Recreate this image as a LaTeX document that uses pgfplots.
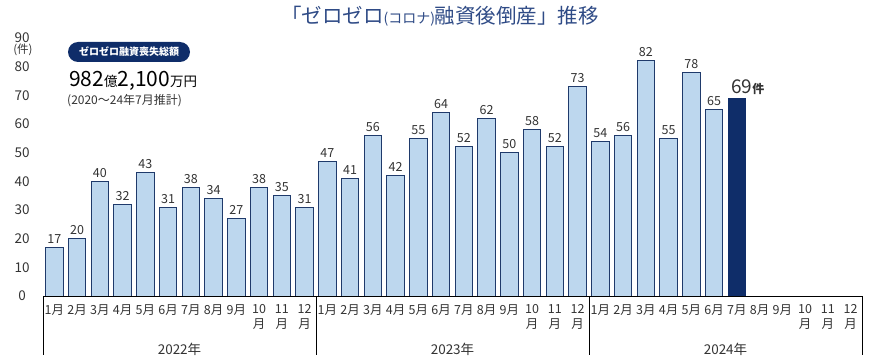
\documentclass[border=0pt]{standalone}
\usepackage{fontspec}
\setmainfont{Noto Sans CJK JP}
\usepackage{pgfplots}
\pgfplotsset{compat=1.18}
\definecolor{barfill}{HTML}{BDD7EE}
\definecolor{barline}{HTML}{1F3A6B}
\definecolor{navy}{HTML}{0F2D69}
\definecolor{titleblue}{HTML}{2F4B86}
\definecolor{txt}{HTML}{333333}
\begin{document}
\begin{tikzpicture}
\useasboundingbox (0pt,0pt) rectangle (876pt,362pt);
\node[font=\fontsize{20.5}{23}\selectfont, text=titleblue] at (440pt,346pt) {「ゼロゼロ{\fontsize{14}{16}\selectfont(コロナ)}融資後倒産」推移};
\node[fill=navy, rounded corners=10pt, text=white, font=\bfseries\fontsize{10}{12}\selectfont, minimum width=122pt, minimum height=20pt, inner sep=0pt] at (129pt,310pt) {ゼロゼロ融資喪失総額};
\node[anchor=base west, inner sep=0pt, text=black] at (69pt,275pt) {{\fontsize{21}{23}\selectfont 982}{\fontsize{13.5}{15}\selectfont 億}{\fontsize{21}{23}\selectfont 2,100}{\fontsize{13.5}{15}\selectfont 万円}};
\node[anchor=west, inner sep=0pt, text=txt, font=\fontsize{12}{13}\selectfont] at (67pt,261pt) {(2020～24年7月推計)};
\node[text=txt, font=\fontsize{11.5}{12}\selectfont, inner sep=0pt] at (23pt,312pt) {(件)};
\begin{axis}[
  at={(43pt,66pt)}, anchor=south west,
  scale only axis, width=819pt, height=258pt,
  xmin=-0.5, xmax=35.5, ymin=0, ymax=90,
  clip=false,
  axis line style={draw=none}, tick style={draw=none},
  ytick={0,10,...,90},
  yticklabel style={font=\fontsize{13.5}{14}\selectfont, text=txt, anchor=center, xshift=-21pt},
  xtick={0,...,35},
  xticklabels={1月,2月,3月,4月,5月,6月,7月,8月,9月,{10\\月},{11\\月},{12\\月},
               1月,2月,3月,4月,5月,6月,7月,8月,9月,{10\\月},{11\\月},{12\\月},
               1月,2月,3月,4月,5月,6月,7月,8月,9月,{10\\月},{11\\月},{12\\月}},
  xticklabel style={font=\fontsize{12.5}{14.5}\selectfont, text=txt, align=center, anchor=north, yshift=-1pt},
  /pgf/number format/assume math mode=true,
  ybar, bar width=0.77, bar shift=0pt,
  nodes near coords,
  every node near coord/.append style={font=\fontsize{12.5}{14}\selectfont, text=txt},
]
\addplot[fill=barfill, draw=barline, line width=0.9pt] coordinates {
(0,17)(1,20)(2,40)(3,32)(4,43)(5,31)(6,38)(7,34)(8,27)(9,38)(10,35)(11,31)
(12,47)(13,41)(14,56)(15,42)(16,55)(17,64)(18,52)(19,62)(20,50)(21,58)(22,52)(23,73)
(24,54)(25,56)(26,82)(27,55)(28,78)(29,65)};
\addplot[fill=navy, draw=navy, line width=0.9pt,
  nodes near coords={{\fontsize{19}{20}\selectfont 69}{\fontsize{12}{14}\selectfont\bfseries 件}},
  every node near coord/.append style={xshift=11pt, text=txt}] coordinates {(30,69)};
\draw[black, line width=0.8pt] (axis cs:-0.5,0) -- (axis cs:35.5,0);
\draw[black, line width=0.8pt] (axis cs:-0.5,0) -- ++(0pt,-59pt);
\draw[black, line width=0.8pt] (axis cs:11.5,0) -- ++(0pt,-59pt);
\draw[black, line width=0.8pt] (axis cs:23.5,0) -- ++(0pt,-59pt);
\draw[black, line width=0.8pt] (axis cs:35.5,0) -- ++(0pt,-59pt);
\node[font=\fontsize{13.5}{15}\selectfont, text=txt, yshift=-53pt] at (axis cs:5.5,0) {2022年};
\node[font=\fontsize{13.5}{15}\selectfont, text=txt, yshift=-53pt] at (axis cs:17.5,0) {2023年};
\node[font=\fontsize{13.5}{15}\selectfont, text=txt, yshift=-53pt] at (axis cs:29.5,0) {2024年};
\end{axis}
\end{tikzpicture}
\end{document}
